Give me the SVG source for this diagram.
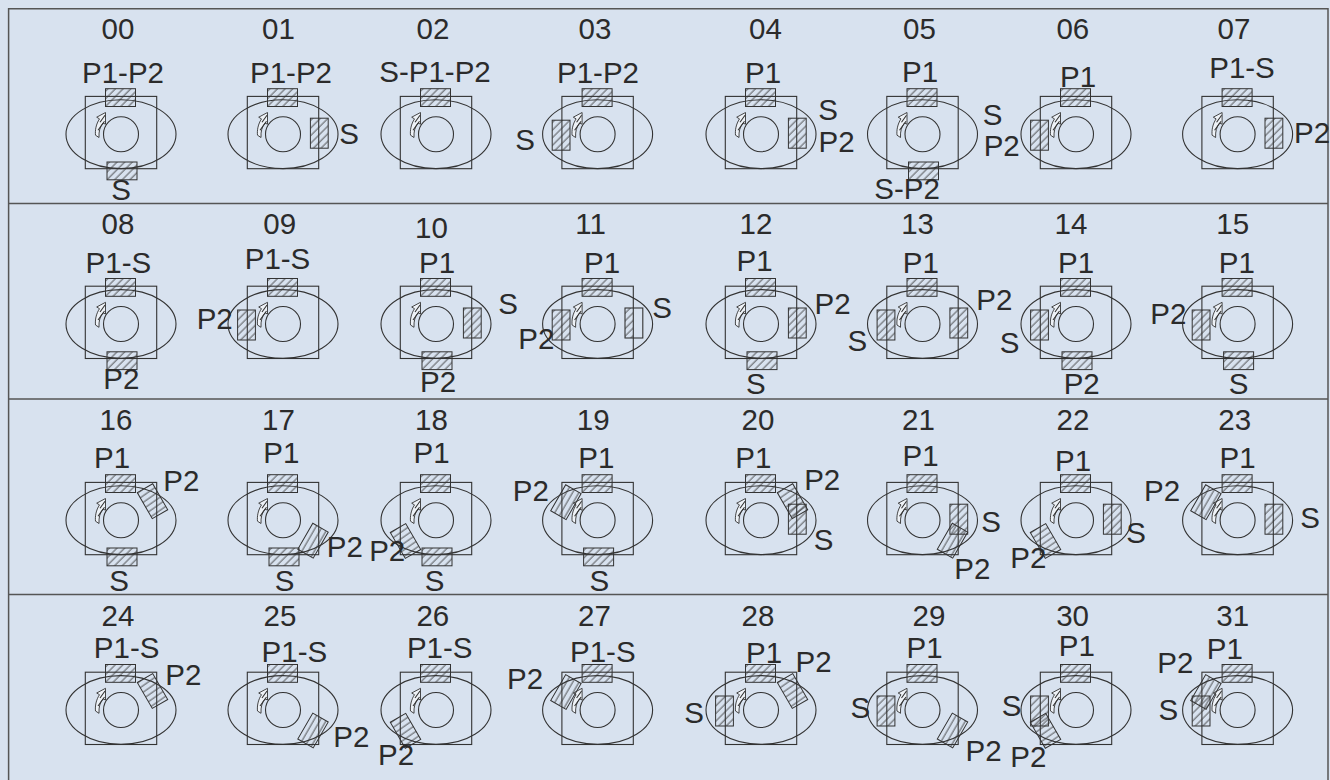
<svg xmlns="http://www.w3.org/2000/svg" width="1330" height="780" viewBox="0 0 1330 780">
<style>
.f{fill:none;stroke:#333;stroke-width:1.1}
.g{fill:none;stroke:#555;stroke-width:1.5}
.h{fill:url(#hatch);stroke:#333;stroke-width:1}
.ha{fill:url(#hatchA);stroke:#333;stroke-width:1}
.hb{fill:url(#hatchB);stroke:#333;stroke-width:1}
.a{fill:#eef2f7;stroke:#333;stroke-width:.9}
text{font-family:"Liberation Sans",Arial,sans-serif;font-size:29.5px;fill:#2b2b2b;text-anchor:middle}
</style>
<defs>
<pattern id="hatch" patternUnits="userSpaceOnUse" width="5.4" height="5.4" patternTransform="rotate(45)">
<line x1="1" y1="0" x2="1" y2="5.4" stroke="#333" stroke-width=".8"/>
</pattern>
<pattern id="hatchA" patternUnits="userSpaceOnUse" width="5.4" height="5.4" patternTransform="rotate(85)">
<line x1="1" y1="0" x2="1" y2="5.4" stroke="#333" stroke-width=".8"/>
</pattern>
<pattern id="hatchB" patternUnits="userSpaceOnUse" width="5.4" height="5.4">
<line x1="1" y1="0" x2="1" y2="5.4" stroke="#333" stroke-width=".8"/>
</pattern>
<rect id="hr" class="h" x="-15" y="-8.9" width="30" height="17.8"/>
<rect id="vr" class="h" x="-8.9" y="-15" width="17.8" height="30"/>
<rect id="vra" class="ha" x="-8.9" y="-15" width="17.8" height="30"/>
<rect id="vrb" class="hb" x="-8.9" y="-15" width="17.8" height="30"/>
<g id="motor">
<rect class="f" x="-35.7" y="-37.8" width="71.4" height="72.3"/>
<ellipse class="f" cx="0" cy="0" rx="55" ry="34.4"/>
<circle class="f" cx="0" cy="0" r="17.5"/>
<path class="a" d="M-15.5-21.7L-24.3-17L-21.5-15.3C-25-10-26-4-25.5 1L-22 3.3C-22.3-3-21-7.5-18-11.2L-15.5-10Z"/>
<path class="f" d="M-16-19L-21-12M-16.5-13L-23-4"/>
</g>
<use id="t" href="#hr" x="-.5" y="-36.6"/>
<use id="b" href="#hr" x="1" y="36.7"/>
<use id="r" href="#vr" x="36.3" y="-1"/>
<use id="l" href="#vr" x="-36.5" y="1"/>
<use id="ur" href="#vra" transform="translate(31.5,-19) rotate(-30)"/>
<use id="dr" href="#vrb" transform="translate(30,20.5) rotate(30)"/>
<use id="dl" href="#vra" transform="translate(-30.5,20.8) rotate(-30)"/>
<use id="ul" href="#vrb" transform="translate(-31.7,-18) rotate(30)"/>
</defs>
<rect x="0" y="0" width="1330" height="780" fill="#d8e2ef"/>
<g id="frame">
<path class="g" d="M8.6 780V8.7H1328V780M8.6 203.5H1328M8.6 399H1328M8.6 594.5H1328"/>
</g>
<g id="cell-00"><g transform="translate(121,134.2)"><use href="#motor"/><use href="#t"/><use href="#b"/></g><text x="118" y="39">00</text><text x="123" y="83">P1-P2</text><text x="121" y="200">S</text></g>
<g id="cell-01"><g transform="translate(283,134.2)"><use href="#motor"/><use href="#t"/><use href="#r"/></g><text x="278.5" y="39">01</text><text x="291" y="83">P1-P2</text><text x="349" y="144">S</text></g>
<g id="cell-02"><g transform="translate(436,134.2)"><use href="#motor"/><use href="#t"/></g><text x="433" y="39">02</text><text x="435" y="82">S-P1-P2</text></g>
<g id="cell-03"><g transform="translate(597.6,134.2)"><use href="#motor"/><use href="#t"/><use href="#l"/></g><text x="595" y="39">03</text><text x="598" y="83">P1-P2</text><text x="525" y="150">S</text></g>
<g id="cell-04"><g transform="translate(761,134.2)"><use href="#motor"/><use href="#t"/><use href="#r"/></g><text x="765.5" y="39">04</text><text x="763" y="83">P1</text><text x="828" y="120">S</text><text x="836.6" y="152">P2</text></g>
<g id="cell-05"><g transform="translate(922.5,134.2)"><use href="#motor"/><use href="#t"/><use href="#b"/></g><text x="919.4" y="39">05</text><text x="920" y="81.7">P1</text><text x="992.5" y="125">S</text><text x="1001.7" y="155.7">P2</text><text x="907" y="199">S-P2</text></g>
<g id="cell-06"><g transform="translate(1076,134.2)"><use href="#motor"/><use href="#t"/><use href="#l"/></g><text x="1072.8" y="39">06</text><text x="1078" y="86.7">P1</text></g>
<g id="cell-07"><g transform="translate(1237.6,134.2)"><use href="#motor"/><use href="#t"/><use href="#r"/></g><text x="1234" y="39">07</text><text x="1242" y="78.3">P1-S</text><text x="1312" y="143">P2</text></g>

<g id="cell-08"><g transform="translate(121,324)"><use href="#motor"/><use href="#t"/><use href="#b"/></g><text x="118" y="234.3">08</text><text x="118.4" y="273.3">P1-S</text><text x="121.4" y="389.3">P2</text></g>
<g id="cell-09"><g transform="translate(283,324)"><use href="#motor"/><use href="#t"/><use href="#l"/></g><text x="279.7" y="234.3">09</text><text x="277.5" y="268.7">P1-S</text><text x="214.7" y="329.3">P2</text></g>
<g id="cell-10"><g transform="translate(436,324)"><use href="#motor"/><use href="#t"/><use href="#r"/><use href="#b"/></g><text x="431.5" y="238.3">10</text><text x="437" y="273.3">P1</text><text x="508" y="314.3">S</text><text x="438" y="392.3">P2</text></g>
<g id="cell-11"><g transform="translate(597.6,324)"><use href="#motor"/><use href="#t"/><use href="#l"/><rect class="f" x="27.4" y="-16" width="17.8" height="30"/><rect fill="url(#hatch)" x="27.4" y="-16" width="8" height="30"/></g><text x="590.6" y="234.3">11</text><text x="602" y="273.3">P1</text><text x="662" y="318.3">S</text><text x="536.4" y="349.3">P2</text></g>
<g id="cell-12"><g transform="translate(761,324)"><use href="#motor"/><use href="#t"/><use href="#r"/><use href="#b"/></g><text x="755.9" y="234.3">12</text><text x="754.6" y="270.7">P1</text><text x="832.6" y="314.3">P2</text><text x="755.9" y="394.3">S</text></g>
<g id="cell-13"><g transform="translate(922.5,324)"><use href="#motor"/><use href="#t"/><use href="#l"/><use href="#r"/></g><text x="917.6" y="234.3">13</text><text x="920.9" y="273.3">P1</text><text x="994.3" y="310">P2</text><text x="857.4" y="350.7">S</text></g>
<g id="cell-14"><g transform="translate(1076,324)"><use href="#motor"/><use href="#t"/><use href="#l"/><use href="#b"/></g><text x="1071" y="234.3">14</text><text x="1076" y="273.3">P1</text><text x="1009.6" y="352.7">S</text><text x="1081.7" y="394.3">P2</text></g>
<g id="cell-15"><g transform="translate(1237.6,324)"><use href="#motor"/><use href="#t"/><use href="#l"/><use href="#b"/></g><text x="1232.7" y="234.3">15</text><text x="1236.8" y="273.3">P1</text><text x="1168.4" y="324">P2</text><text x="1238.5" y="394.3">S</text></g>

<g id="cell-16"><g transform="translate(121,520.2)"><use href="#motor"/><use href="#t"/><use href="#b"/><use href="#ur"/></g><text x="116" y="430">16</text><text x="112" y="468.3">P1</text><text x="181.3" y="491">P2</text><text x="119" y="590.7">S</text></g>
<g id="cell-17"><g transform="translate(283,520.2)"><use href="#motor"/><use href="#t"/><use href="#b"/><use href="#dr"/></g><text x="278.4" y="430">17</text><text x="281.4" y="463.3">P1</text><text x="344.8" y="557.3">P2</text><text x="284.5" y="590.7">S</text></g>
<g id="cell-18"><g transform="translate(436,520.2)"><use href="#motor"/><use href="#t"/><use href="#b"/><use href="#dl"/></g><text x="431.5" y="430">18</text><text x="431.5" y="463.3">P1</text><text x="387.2" y="560.7">P2</text><text x="434.5" y="590.7">S</text></g>
<g id="cell-19"><g transform="translate(597.6,520.2)"><use href="#motor"/><use href="#t"/><use href="#b"/><use href="#ul"/></g><text x="593.2" y="430">19</text><text x="596.3" y="467.7">P1</text><text x="530.8" y="501">P2</text><text x="599.3" y="590.7">S</text></g>
<g id="cell-20"><g transform="translate(761,520.2)"><use href="#motor"/><use href="#t"/><use href="#r"/><use href="#ur"/></g><text x="758" y="430">20</text><text x="753.4" y="468.3">P1</text><text x="822.2" y="490">P2</text><text x="823.5" y="550">S</text></g>
<g id="cell-21"><g transform="translate(922.5,520.2)"><use href="#motor"/><use href="#t"/><use href="#r"/><use href="#dr"/></g><text x="918.4" y="430">21</text><text x="920.5" y="465.7">P1</text><text x="991" y="531.7">S</text><text x="972.3" y="579">P2</text></g>
<g id="cell-22"><g transform="translate(1076,520.2)"><use href="#motor"/><use href="#t"/><use href="#r"/><use href="#dl"/></g><text x="1073" y="430">22</text><text x="1073" y="471">P1</text><text x="1136" y="542.7">S</text><text x="1028.3" y="568.3">P2</text></g>
<g id="cell-23"><g transform="translate(1237.6,520.2)"><use href="#motor"/><use href="#t"/><use href="#r"/><use href="#ul"/></g><text x="1234.7" y="430">23</text><text x="1237.6" y="468.3">P1</text><text x="1162" y="501">P2</text><text x="1310" y="528.3">S</text></g>

<g id="cell-24"><g transform="translate(121,710)"><use href="#motor"/><use href="#t"/><use href="#ur"/></g><text x="118" y="625.7">24</text><text x="126.6" y="657.7">P1-S</text><text x="183.4" y="685">P2</text></g>
<g id="cell-25"><g transform="translate(283,710)"><use href="#motor"/><use href="#t"/><use href="#dr"/></g><text x="280" y="625.7">25</text><text x="294.4" y="662.3">P1-S</text><text x="351.3" y="746.7">P2</text></g>
<g id="cell-26"><g transform="translate(436,710)"><use href="#motor"/><use href="#t"/><use href="#dl"/></g><text x="432.8" y="625.7">26</text><text x="439.7" y="657.7">P1-S</text><text x="396" y="765">P2</text></g>
<g id="cell-27"><g transform="translate(597.6,710)"><use href="#motor"/><use href="#t"/><use href="#ul"/></g><text x="594.5" y="625.7">27</text><text x="602.8" y="662.3">P1-S</text><text x="525" y="688.7">P2</text></g>
<g id="cell-28"><g transform="translate(761,710)"><use href="#motor"/><use href="#t"/><use href="#l"/><use href="#ur"/></g><text x="758" y="625.7">28</text><text x="764" y="662.7">P1</text><text x="813.5" y="671.7">P2</text><text x="694" y="722.7">S</text></g>
<g id="cell-29"><g transform="translate(922.5,710)"><use href="#motor"/><use href="#t"/><use href="#l"/><use href="#dr"/></g><text x="929" y="625.7">29</text><text x="924.6" y="658.3">P1</text><text x="983.5" y="760.7">P2</text><text x="860.3" y="717.7">S</text></g>
<g id="cell-30"><g transform="translate(1076,710)"><use href="#motor"/><use href="#t"/><use href="#l"/><use href="#dl"/></g><text x="1072.6" y="625.7">30</text><text x="1076.8" y="656">P1</text><text x="1011.7" y="715.7">S</text><text x="1028.3" y="767.3">P2</text></g>
<g id="cell-31"><g transform="translate(1237.6,710)"><use href="#motor"/><use href="#t"/><use href="#l"/><use href="#ul"/></g><text x="1232.7" y="625.7">31</text><text x="1224.8" y="659.3">P1</text><text x="1175.4" y="673.3">P2</text><text x="1168.4" y="720">S</text></g>
</svg>
